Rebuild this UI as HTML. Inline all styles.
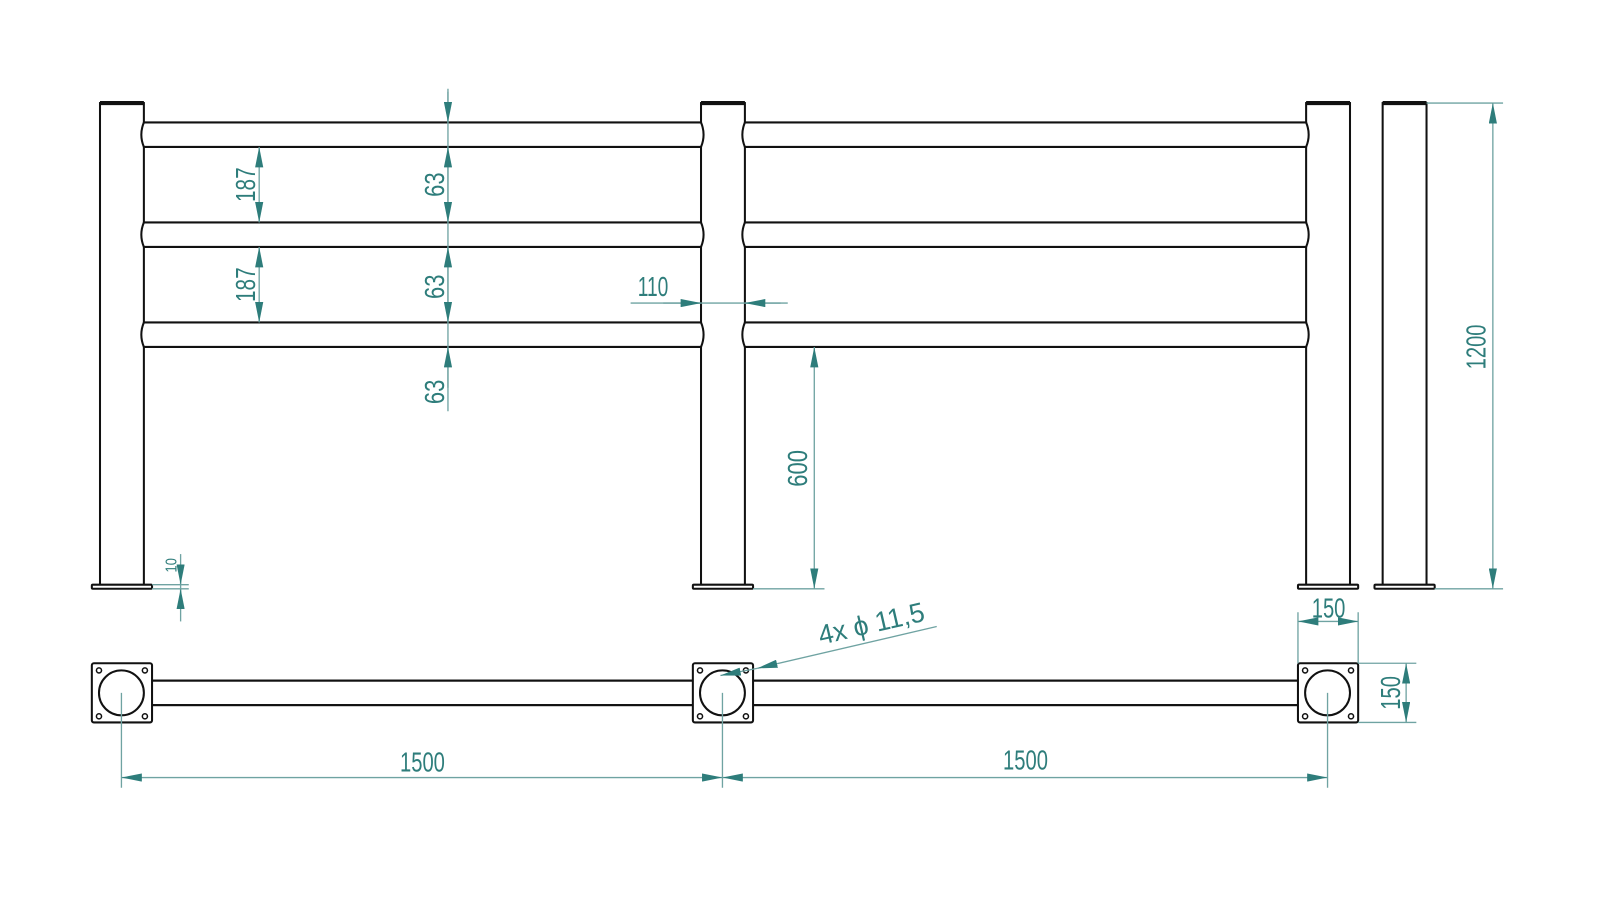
<!DOCTYPE html>
<html><head><meta charset="utf-8"><style>html,body{margin:0;padding:0;background:#fff}svg{display:block}</style></head>
<body>
<svg width="1600" height="900" viewBox="0 0 1568 882" xmlns="http://www.w3.org/2000/svg">
<defs>
<marker id="a" viewBox="0 0 20 8" refX="20" refY="4" markerWidth="20" markerHeight="8" markerUnits="userSpaceOnUse" orient="auto"><path d="M0,0 L20,4 L0,8 Z" fill="#2e7d7b"/></marker>
<marker id="s" viewBox="0 0 20 8" refX="20" refY="4" markerWidth="20" markerHeight="8" markerUnits="userSpaceOnUse" orient="auto-start-reverse"><path d="M0,0 L20,4 L0,8 Z" fill="#2e7d7b"/></marker>
</defs>
<g fill="none" stroke="#111" stroke-width="2">
<!-- posts -->
<rect x="98" y="101" width="43" height="473"/>
<rect x="687" y="101" width="43" height="473"/>
<rect x="1280" y="101" width="43" height="473"/>
<rect x="1355" y="101" width="43" height="473"/>
<g stroke-width="4"><line x1="98" y1="101" x2="141" y2="101"/><line x1="687" y1="101" x2="730" y2="101"/><line x1="1280" y1="101" x2="1323" y2="101"/><line x1="1355" y1="101" x2="1398" y2="101"/></g>
<g fill="#fff"><rect x="90" y="573" width="59" height="4" rx="1"/><rect x="679" y="573" width="59" height="4" rx="1"/><rect x="1272" y="573" width="59" height="4" rx="1"/><rect x="1347" y="573" width="59" height="4" rx="1"/></g>
<!-- rails -->
<g fill="#fff">
<path d="M141,120 H687 Q692,132 687,144 H141 Q136,132 141,120 Z"/>
<path d="M141,218 H687 Q692,230 687,242 H141 Q136,230 141,218 Z"/>
<path d="M141,316 H687 Q692,328 687,340 H141 Q136,328 141,316 Z"/>
<path d="M730,120 H1280 Q1285,132 1280,144 H730 Q725,132 730,120 Z"/>
<path d="M730,218 H1280 Q1285,230 1280,242 H730 Q725,230 730,218 Z"/>
<path d="M730,316 H1280 Q1285,328 1280,340 H730 Q725,328 730,316 Z"/>
</g>
<!-- plan -->
<rect x="141" y="667" width="1140" height="24" fill="#fff"/>
<g fill="#fff">
<rect x="90" y="650" width="59" height="58" rx="2"/><rect x="679" y="650" width="59" height="58" rx="2"/><rect x="1272" y="650" width="59" height="58" rx="2"/>
</g>
<line x1="149" y1="667" x2="679" y2="667"/><line x1="149" y1="691" x2="679" y2="691"/>
<line x1="738" y1="667" x2="1272" y2="667"/><line x1="738" y1="691" x2="1272" y2="691"/>
<g fill="#fff"><circle cx="119" cy="679" r="22"/><circle cx="708" cy="679" r="22"/><circle cx="1301" cy="679" r="22"/></g>
<g stroke-width="1.5">
<circle cx="97" cy="657" r="2.5"/><circle cx="142" cy="657" r="2.5"/><circle cx="97" cy="702" r="2.5"/><circle cx="142" cy="702" r="2.5"/>
<circle cx="686" cy="657" r="2.5"/><circle cx="731" cy="657" r="2.5"/><circle cx="686" cy="702" r="2.5"/><circle cx="731" cy="702" r="2.5"/>
<circle cx="1279" cy="657" r="2.5"/><circle cx="1324" cy="657" r="2.5"/><circle cx="1279" cy="702" r="2.5"/><circle cx="1324" cy="702" r="2.5"/>
</g>
</g>
<g stroke="#6fa3a2" stroke-width="1.3" fill="none">
<!-- 63 chain -->
<line x1="439" y1="87" x2="439" y2="403"/>
<line x1="439" y1="90" x2="439" y2="120" marker-end="url(#a)"/>
<line x1="439" y1="180" x2="439" y2="144" marker-end="url(#a)"/>
<line x1="439" y1="180" x2="439" y2="218" marker-end="url(#a)"/>
<line x1="439" y1="280" x2="439" y2="242" marker-end="url(#a)"/>
<line x1="439" y1="280" x2="439" y2="316" marker-end="url(#a)"/>
<line x1="439" y1="380" x2="439" y2="340" marker-end="url(#a)"/>
<!-- 187 -->
<line x1="254" y1="144" x2="254" y2="218" marker-start="url(#s)" marker-end="url(#a)"/>
<line x1="254" y1="242" x2="254" y2="316" marker-start="url(#s)" marker-end="url(#a)"/>
<!-- 110 -->
<line x1="618" y1="297" x2="772" y2="297"/>
<line x1="650" y1="297" x2="687" y2="297" marker-end="url(#a)"/>
<line x1="765" y1="297" x2="730" y2="297" marker-end="url(#a)"/>
<!-- 600 -->
<line x1="738" y1="577" x2="808" y2="577"/>
<line x1="798" y1="340" x2="798" y2="577" marker-start="url(#s)" marker-end="url(#a)"/>
<!-- 1200 -->
<line x1="1398" y1="101" x2="1473" y2="101"/><line x1="1406" y1="577" x2="1473" y2="577"/>
<line x1="1463" y1="101" x2="1463" y2="577" marker-start="url(#s)" marker-end="url(#a)"/>
<!-- 10 -->
<line x1="149" y1="573" x2="185" y2="573"/><line x1="149" y1="577" x2="185" y2="577"/>
<line x1="177" y1="543" x2="177" y2="609"/>
<line x1="177" y1="555" x2="177" y2="573" marker-end="url(#a)"/>
<line x1="177" y1="595" x2="177" y2="577" marker-end="url(#a)"/>
<!-- 1500 -->
<line x1="119" y1="679" x2="119" y2="772"/><line x1="708" y1="679" x2="708" y2="772"/><line x1="1301" y1="679" x2="1301" y2="772"/>
<line x1="119" y1="762" x2="708" y2="762" marker-start="url(#s)" marker-end="url(#a)"/>
<line x1="708" y1="762" x2="1301" y2="762" marker-start="url(#s)" marker-end="url(#a)"/>
<!-- 150 h -->
<line x1="1272" y1="600" x2="1272" y2="650"/><line x1="1331" y1="600" x2="1331" y2="650"/>
<line x1="1272" y1="609" x2="1331" y2="609" marker-start="url(#s)" marker-end="url(#a)"/>
<!-- 150 v -->
<line x1="1331" y1="650" x2="1388" y2="650"/><line x1="1331" y1="708" x2="1388" y2="708"/>
<line x1="1378" y1="650" x2="1378" y2="708" marker-start="url(#s)" marker-end="url(#a)"/>
<!-- leader -->
<line x1="918" y1="614" x2="742" y2="655" marker-end="url(#a)"/>
<line x1="742" y1="655" x2="706" y2="662" marker-end="url(#a)"/>
</g>
<g fill="#2e7d7b" font-family="Liberation Sans, sans-serif" font-size="27" lengthAdjust="spacingAndGlyphs">
<text transform="translate(250,181) rotate(-90)" text-anchor="middle" textLength="34" lengthAdjust="spacingAndGlyphs">187</text>
<text transform="translate(250,279) rotate(-90)" text-anchor="middle" textLength="34" lengthAdjust="spacingAndGlyphs">187</text>
<text transform="translate(435,181) rotate(-90)" text-anchor="middle" textLength="24" lengthAdjust="spacingAndGlyphs">63</text>
<text transform="translate(435,281) rotate(-90)" text-anchor="middle" textLength="24" lengthAdjust="spacingAndGlyphs">63</text>
<text transform="translate(435,384) rotate(-90)" text-anchor="middle" textLength="24" lengthAdjust="spacingAndGlyphs">63</text>
<text x="640" y="290" text-anchor="middle" textLength="30" lengthAdjust="spacingAndGlyphs">110</text>
<text transform="translate(791,459) rotate(-90)" text-anchor="middle" textLength="36" lengthAdjust="spacingAndGlyphs">600</text>
<text transform="translate(1456,340) rotate(-90)" text-anchor="middle" textLength="44" lengthAdjust="spacingAndGlyphs">1200</text>
<text transform="translate(173,554) rotate(-90)" text-anchor="middle" font-size="15" textLength="14" lengthAdjust="spacingAndGlyphs">10</text>
<text x="414" y="756" text-anchor="middle" textLength="44" lengthAdjust="spacingAndGlyphs">1500</text>
<text x="1005" y="754" text-anchor="middle" textLength="44" lengthAdjust="spacingAndGlyphs">1500</text>
<text x="1302" y="605" text-anchor="middle" textLength="33" lengthAdjust="spacingAndGlyphs">150</text>
<text transform="translate(1372,679) rotate(-90)" text-anchor="middle" textLength="33" lengthAdjust="spacingAndGlyphs">150</text>
<text transform="translate(856,620) rotate(-13)" text-anchor="middle" textLength="106" lengthAdjust="spacingAndGlyphs">4x  ϕ  11,5</text>
</g>
</svg>
</body></html>
